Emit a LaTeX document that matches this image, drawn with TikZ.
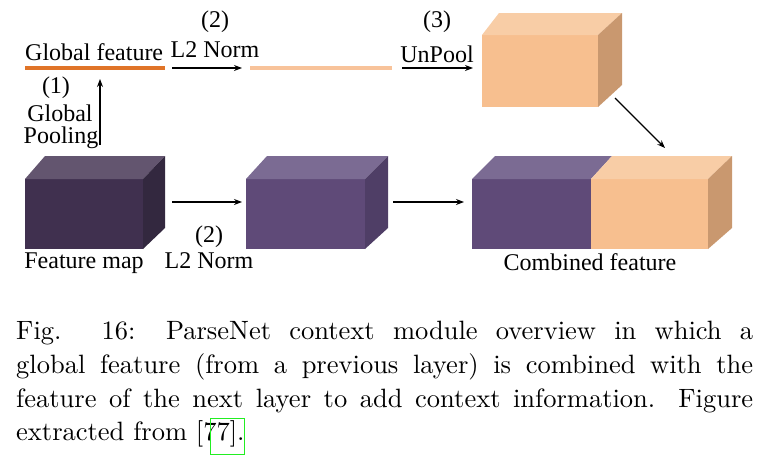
\documentclass[tikz,border=0pt]{standalone}
\usepackage{fontspec}
\newfontfamily\diafont{Liberation Serif}
\newfontfamily\capfont{lmroman10-regular.otf}
\usetikzlibrary{arrows.meta}
\definecolor{gfeat}{HTML}{E07428}
\definecolor{lfeat}{HTML}{F8C39A}
\definecolor{orfront}{HTML}{F7BF8F}
\definecolor{ortop}{HTML}{F8CDA6}
\definecolor{orside}{HTML}{C9986F}
\definecolor{dkfront}{HTML}{40304F}
\definecolor{dktop}{HTML}{63556F}
\definecolor{dkside}{HTML}{33283F}
\definecolor{pufront}{HTML}{5F4A78}
\definecolor{putop}{HTML}{7B6B93}
\definecolor{puside}{HTML}{4F3E66}
\definecolor{linkgreen}{HTML}{22EE22}
\tikzset{
  conn/.style={-{Stealth[length=8pt,width=6pt]}, line width=1.3pt, black},
  lbl/.style={font=\diafont\fontsize{24}{26}\selectfont, inner sep=0pt, align=center},
  capline/.style={font=\capfont\fontsize{26.5}{30}\selectfont, inner sep=0pt, anchor=base west},
}
\begin{document}
\begin{tikzpicture}[x=1pt,y=-1pt]
\useasboundingbox (0,0) rectangle (774,463);
% top feature lines
\draw[gfeat, line width=4.5pt] (25,68) -- (165,68);
\draw[lfeat, line width=4.5pt] (250,68) -- (392,68);
\node[lbl, anchor=base west] (gftxt) at (25,60) {Global feature};
% top orange cube
\fill[orfront] (482,35) rectangle (598,107);
\fill[ortop] (482,35) -- (499,13) -- (622,13) -- (598,35) -- cycle;
\fill[orside] (598,35) -- (622,13) -- (622,85) -- (598,107) -- cycle;
\coordinate (upcB) at (615,98);
% feature map cube
\fill[dkfront] (25,179) rectangle (143,249);
\fill[dktop] (25,179) -- (45,156) -- (165,156) -- (143,179) -- cycle;
\fill[dkside] (143,179) -- (165,156) -- (165,228) -- (143,249) -- cycle;
\coordinate (fmR) at (172,202);
\coordinate (fmT) at (100,145);
% normalized cube
\fill[pufront] (246,179) rectangle (365,249);
\fill[putop] (246,179) -- (267,156) -- (388,156) -- (365,179) -- cycle;
\fill[puside] (365,179) -- (388,156) -- (388,228) -- (365,249) -- cycle;
\coordinate (nmL) at (242,202);
\coordinate (nmR) at (393,202);
% combined cube
\fill[pufront] (472,179) rectangle (591,249);
\fill[orfront] (591,179) rectangle (708,249);
\fill[putop] (472,179) -- (495,156) -- (612,156) -- (591,179) -- cycle;
\fill[ortop] (591,179) -- (612,156) -- (732,156) -- (708,179) -- cycle;
\fill[orside] (708,179) -- (732,156) -- (732,228) -- (708,249) -- cycle;
\coordinate (cbL) at (464,202);
\coordinate (cbT) at (665,148);
% arrows
\draw[conn] (172,68) -- (242,68);
\draw[conn] (402,68) -- (473,68);
\draw[conn] (fmT) -- (100,79);
\draw[conn] (fmR) -- (nmL);
\draw[conn] (nmR) -- (cbL);
\draw[conn] (upcB) -- (cbT);
% labels
\node[lbl] (n2a) at (215,22) {(2)};
\node[lbl, anchor=base] (l2a) at (215,57) {L2 Norm};
\node[lbl] (n3) at (437,22) {(3)};
\node[lbl, anchor=base] (unp) at (437,62) {UnPool};
\node[lbl] (n1) at (56,88) {(1)};
\node[lbl] (glb) at (60,113) {Global};
\node[lbl] (pool) at (61,138) {Pooling};
\node[lbl] (n2b) at (209,237) {(2)};
\node[lbl, anchor=base] (l2b) at (209,268) {L2 Norm};
\node[lbl, anchor=base] (fmap) at (84,268) {Feature map};
\node[lbl, anchor=base] (comb) at (590,270) {Combined feature};
% caption
\node[capline] (c1) at (16,339) {\makebox[737pt][s]{Fig. 16: ParseNet context module overview in which a}};
\node[capline] (c2) at (16,373) {\makebox[737pt][s]{global feature (from a previous layer) is combined with the}};
\node[capline] (c3) at (16,407) {\makebox[737pt][s]{feature of the next layer to add context information. Figure}};
\node[capline] (c4) at (16,440) {extracted from [77].};
\draw[linkgreen, line width=1pt] (210,418) rectangle (244,454);
\end{tikzpicture}
\end{document}
